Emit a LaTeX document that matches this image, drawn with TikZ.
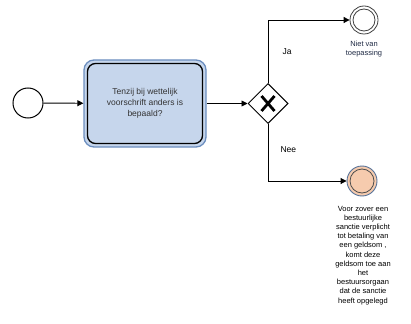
\documentclass[tikz,border=0pt]{standalone}
\usepackage{fontspec}
\setmainfont{Liberation Sans}
\usetikzlibrary{arrows.meta,shapes.geometric,calc}
\definecolor{taskfill}{HTML}{C6D6EC}
\definecolor{taskblue}{HTML}{6C8EBF}
\definecolor{peach}{HTML}{F6CBAE}
\definecolor{navytext}{HTML}{1F2A44}
\tikzset{
  flow/.style={draw=black, line width=0.9pt, -{Triangle[length=6pt,width=6pt]}},
  evt/.style={circle, draw=black, line width=1pt, minimum size=30pt, inner sep=0pt},
  lbl/.style={font=\fontsize{7.5pt}{9.2pt}\selectfont, align=center},
  elbl/.style={font=\fontsize{8.5pt}{10pt}\selectfont, anchor=west},
}
\begin{document}
\begin{tikzpicture}[x=1pt,y=-1pt]
\useasboundingbox (0,0) rectangle (411,323);
% start event
\node[evt] (start) at (28,103) {};
% task
\node[draw=taskblue, fill=taskfill, line width=1.3pt, rounded corners=10pt,
      minimum width=122pt, minimum height=87pt] (task) at (145,103.5) {};
\draw[black, line width=1.3pt, rounded corners=8pt] (87.5,63.5) rectangle (202.5,143.5);
\node[font=\fontsize{8.5pt}{11pt}\selectfont, align=center, text=black!80] (tasktext) at (task.center)
  {Tenzij bij wettelijk\\voorschrift anders is\\bepaald?};
% gateway
\node[diamond, draw=black, fill=white, line width=1pt, minimum width=40pt, minimum height=40pt, inner sep=0pt] (gw) at (268,103.5) {};
\draw[line width=2.8pt] ($(gw.center)+(-6.5,-7.5)$) -- ($(gw.center)+(6.5,7.5)$)
  ($(gw.center)+(6.5,-7.5)$) -- ($(gw.center)+(-6.5,7.5)$);
% end events
\node[circle, draw=black!75, fill=white, line width=0.8pt, minimum size=28pt, inner sep=0pt] (endA) at (364,20) {};
\draw[black!75, line width=0.8pt] (endA.center) circle (11pt);
\node[circle, draw=taskblue!80!black, fill=peach, line width=0.9pt, minimum size=30pt, inner sep=0pt] (endB) at (362,181) {};
\draw[black!70, line width=0.8pt] (endB.center) circle (12pt);
% labels
\node[lbl, text=navytext] (labA) at (364,49) {Niet van\\toepassing};
\node[lbl, anchor=north] (labB) at (363,202.5) {Voor zover een\\bestuurlijke\\sanctie verplicht\\tot betaling van\\een geldsom ,\\komt deze\\geldsom toe aan\\het\\bestuursorgaan\\dat de sanctie\\heeft opgelegd};
% connectors
\draw[flow] (start) -- (task);
\draw[flow] (task) -- (gw);
\draw[flow] (gw.north) |- (endA.west);
\draw[flow] (gw.south) |- (endB.west);
\node[elbl] (ja) at (279,52) {Ja};
\node[elbl] (nee) at (277,150) {Nee};
\end{tikzpicture}
\end{document}
